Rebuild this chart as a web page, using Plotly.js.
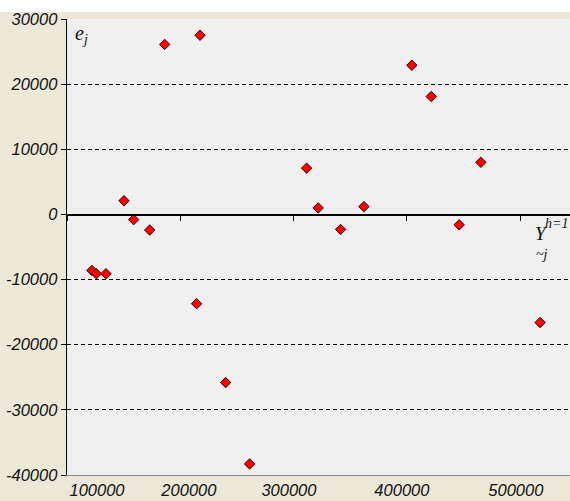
<!DOCTYPE html>
<html>
<head>
<meta charset="utf-8">
<script src="https://cdn.plot.ly/plotly-3.0.1.min.js"></script>
<style>html,body{margin:0;padding:0;background:#fff;}#chart{width:570px;height:501px;}</style>
</head>
<body>
<div id="chart"></div>
<script>
// Fitted values (x) and residuals e_j (y)
var fitted = [122000, 125900, 134400, 150300, 158800, 173000, 186200, 214400, 217400, 240000,
              261200, 311500, 321700, 341500, 362100, 404400, 421500, 446200, 465300, 517600];
var residuals = [-8600, -9100, -9100, 2100, -800, -2400, 26100, -13700, 27500, -25800,
                 -38300, 7100, 1000, -2300, 1200, 22900, 18100, -1600, 8000, -16600];

var yTicks = [-40000, -30000, -20000, -10000, 0, 10000, 20000, 30000];
var yTickLabels = ['-40000', '-30000', '-20000', '-10000', '0', '10000', '20000', '30000'];
var xTickValues = [100000, 200000, 300000, 400000, 500000];
var xTickLabels = ['100000', '200000', '300000', '400000', '500000'];
// label placement along the bottom edge as drawn in the original
var xLabelPos = [126500, 207600, 295900, 395600, 496200];

var tickFont = {family: 'Liberation Sans, Arial, sans-serif', size: 16.5, color: '#111', style: 'italic'};
var serif = 'Liberation Serif, Times New Roman, serif';

var trace = {
  x: fitted, y: residuals, type: 'scatter', mode: 'markers',
  marker: {symbol: 'diamond', size: 8, color: '#ff0000', line: {color: '#3a0000', width: 1}},
  hoverinfo: 'x+y', showlegend: false
};
var trace2 = {x: [], y: [], xaxis: 'x2', yaxis: 'y', type: 'scatter', showlegend: false, hoverinfo: 'skip'};

var layout = {
  width: 570, height: 501,
  margin: {l: 67, r: 0, t: 19, b: 26, pad: 0},
  paper_bgcolor: '#ebe8d8',
  plot_bgcolor: '#efefef',
  showlegend: false,
  xaxis: {
    range: [100000, 544000], showgrid: false, zeroline: false,
    showline: true, linecolor: '#8a8a8a', linewidth: 1,
    tickmode: 'array', tickvals: xLabelPos, ticktext: xTickLabels,
    ticks: '', tickfont: tickFont, fixedrange: true
  },
  xaxis2: {
    range: [100000, 544000], overlaying: 'x', anchor: 'free', position: 4/7,
    side: 'bottom', showgrid: false, zeroline: false,
    showline: true, linecolor: '#000', linewidth: 1.3,
    tickmode: 'array', tickvals: xTickValues, ticks: 'outside', ticklen: 5,
    tickcolor: '#000', tickwidth: 1, showticklabels: false
  },
  yaxis: {
    range: [-40000, 30000], zeroline: false,
    showline: true, linecolor: '#000', linewidth: 1.3,
    tickmode: 'array', tickvals: yTicks, ticktext: yTickLabels, ticks: 'outside', ticklen: 5,
    tickcolor: '#000', tickfont: tickFont, ticklabelstandoff: 0,
    showgrid: true, gridcolor: '#000', gridwidth: 1, griddash: '4px,3px'
  },
  shapes: [
    {type: 'rect', xref: 'paper', yref: 'paper', x0: -0.2, x1: 1.1, y0: 1.0154, y1: 1.1,
     fillcolor: '#ffffff', line: {width: 0}, layer: 'above'}
  ],
  annotations: [
    {xref: 'paper', yref: 'paper', x: 0.012, y: 0.998, xanchor: 'left', yanchor: 'top',
     text: 'e<sub>j</sub>', showarrow: false,
     font: {family: serif, size: 20, color: '#111', style: 'italic'}},
    {xref: 'paper', yref: 'paper', x: 0.9264, y: 0.558, xanchor: 'left', yanchor: 'top',
     text: 'Y', showarrow: false,
     font: {family: serif, size: 19, color: '#111', style: 'italic'}},
    {xref: 'paper', yref: 'paper', x: 1.0, y: 0.573, xanchor: 'right', yanchor: 'top',
     text: 'h=1', showarrow: false,
     font: {family: serif, size: 14, color: '#111', style: 'italic'}},
    {xref: 'paper', yref: 'paper', x: 0.929, y: 0.505, xanchor: 'left', yanchor: 'top',
     text: '~j', showarrow: false,
     font: {family: serif, size: 14, color: '#111', style: 'italic'}}
  ]
};

Plotly.newPlot('chart', [trace2, trace], layout, {displayModeBar: false, staticPlot: true});
</script>
</body>
</html>
